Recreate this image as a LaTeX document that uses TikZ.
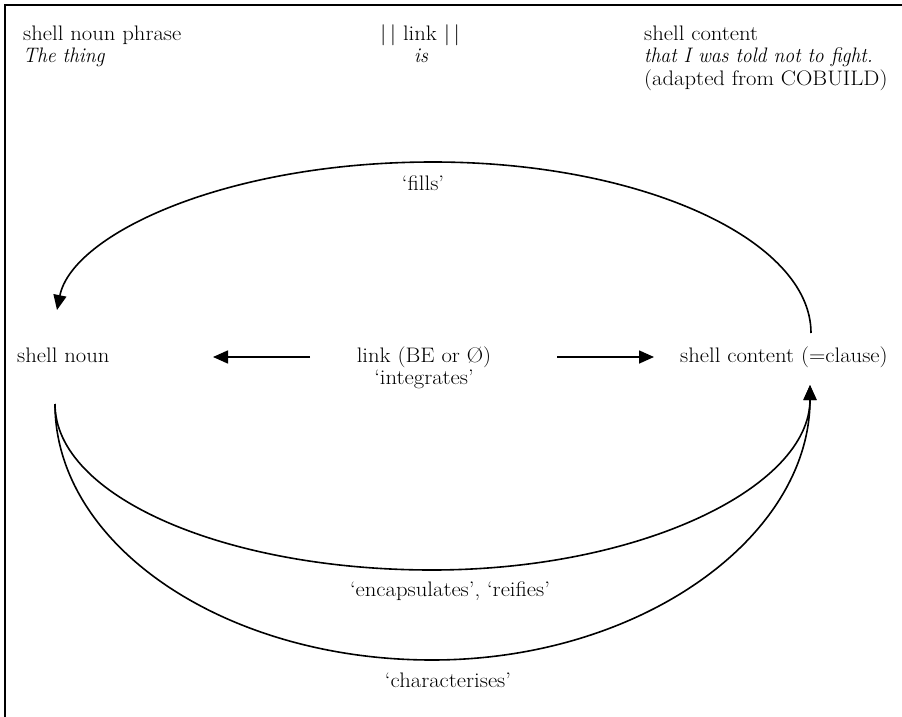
\documentclass[tikz,border=0pt]{standalone}
\usepackage{fontspec}
\setmainfont{Latin Modern Roman}[FakeStretch=1.08, ItalicFeatures={FakeStretch=0.94}]
\usetikzlibrary{arrows.meta}
\begin{document}
\begin{tikzpicture}[x=1pt,y=1pt,
  txt/.style={inner sep=0pt, font=\fontsize{21}{25}\selectfont},
  ln/.style={line width=1.6pt},
  arr/.style={ln, -{Triangle[length=15pt,width=13pt]}},
  frameline/.style={line width=2.2pt, line join=miter}]
\useasboundingbox (0,0) rectangle (902,-717);
\draw[frameline] (5,-720) -- (5,-5) -- (905,-5);
% header
\node[txt,anchor=base west] (snp) at (23,-41) {shell noun phrase};
\node[txt,anchor=base west] (thing) at (23,-63) {\itshape The thing};
\node[txt,anchor=base] (link) at (420,-41) {|\,| link |\,|};
\node[txt,anchor=base] (is) at (421,-63) {\itshape is};
\node[txt,anchor=base west] (sc) at (644,-41) {shell content};
\node[txt,anchor=base west] (that) at (644,-63) {\itshape that I was told not to fight.};
\node[txt,anchor=base west] (adapted) at (644,-85) {(adapted from COBUILD)};
% labels
\node[txt,anchor=base] (fills) at (423,-190) {‘fills’};
\node[txt,anchor=base west] (sn) at (17,-362) {shell noun};
\node[txt,anchor=base] (linkbe) at (424,-362) {link (BE or Ø)};
\node[txt,anchor=base] (integ) at (424,-384) {‘integrates’};
\node[txt,anchor=base west] (scc) at (680,-362) {shell content (=clause)};
\node[txt,anchor=base] (encaps) at (450,-596) {‘encapsulates’, ‘reifies’};
\node[txt,anchor=base] (chars) at (448,-687) {‘characterises’};
% straight arrows
\coordinate (la) at (310,-357); \coordinate (lb) at (213,-357);
\coordinate (ra) at (557,-357); \coordinate (rb) at (654,-357);
\draw[arr] (la) -- (lb);
\draw[arr] (ra) -- (rb);
% fills arc
\coordinate (fs) at (811,-333); \coordinate (ft) at (433,-162); \coordinate (fe) at (57,-310);
\draw[arr] (fs) .. controls (811,-240) and (642,-162) .. (ft) .. controls (224,-162) and (72,-235) .. (fe);
% lower arcs
\coordinate (ls) at (55,-404); \coordinate (le) at (810,-385);
\coordinate (ib) at (432,-570); \coordinate (ob) at (432,-660);
\draw[arr] (ls) .. controls (55,-496) and (224,-570) .. (ib) .. controls (641,-570) and (810,-487) .. (le);
\draw[arr] (ls) .. controls (55,-545) and (224,-660) .. (ob) .. controls (641,-660) and (810,-537) .. (le);
\end{tikzpicture}
\end{document}
